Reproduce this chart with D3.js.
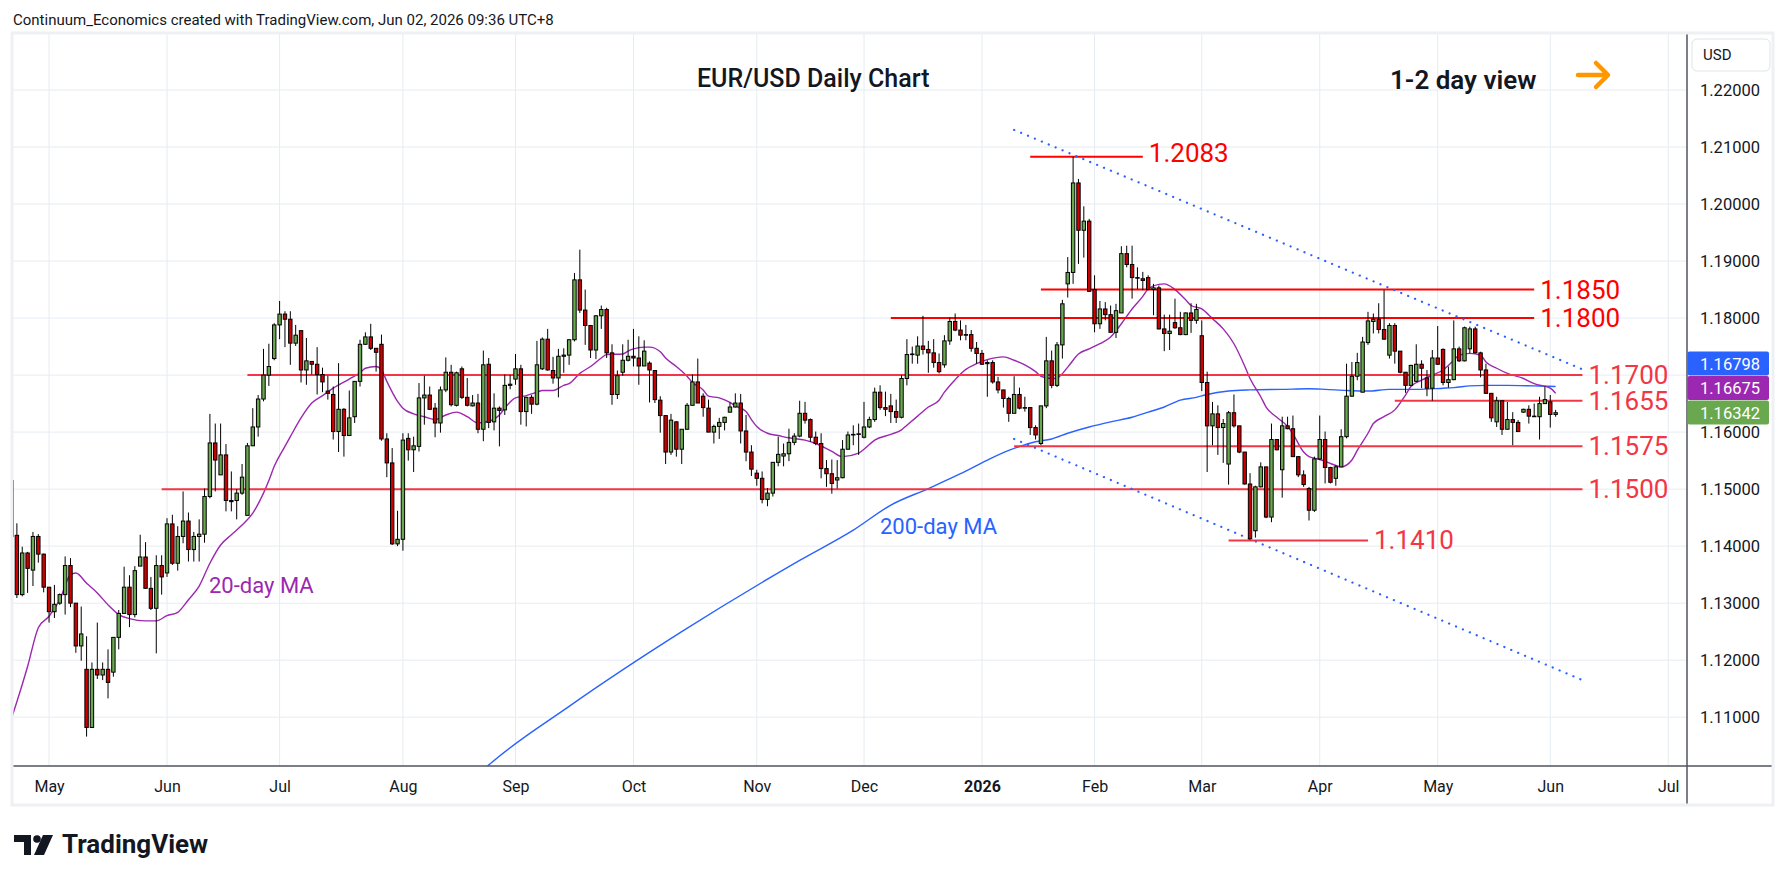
<!DOCTYPE html>
<html>
<head>
<meta charset="utf-8">
<script src="https://cdn.jsdelivr.net/npm/d3@7"></script>
<style>
  body { margin: 0; background: #fff; }
  text { font-family: Roboto, "Liberation Sans", sans-serif; }
</style>
</head>
<body>
<svg id="chart" width="1787" height="881"></svg>
<script>
// daily EUR/USD candles: date, open, high, low, close
const ohlc = [
["2025-04-22",1.1515,1.1550,1.1400,1.1417],
["2025-04-23",1.1419,1.1440,1.1309,1.1315],["2025-04-24",1.1315,1.1399,1.1312,1.1388],["2025-04-25",1.1388,1.1390,1.1318,1.1361],
["2025-04-28",1.1358,1.1425,1.1330,1.1417],["2025-04-29",1.1417,1.1421,1.1371,1.1386],["2025-04-30",1.1386,1.1387,1.1319,1.1328],
["2025-05-01",1.1328,1.1328,1.1266,1.1285],["2025-05-02",1.1285,1.1332,1.1274,1.1298],["2025-05-05",1.1300,1.1317,1.1297,1.1315],
["2025-05-06",1.1315,1.1382,1.1280,1.1366],["2025-05-07",1.1366,1.1379,1.1293,1.1300],["2025-05-08",1.1300,1.1300,1.1213,1.1225],
["2025-05-09",1.1225,1.1294,1.1199,1.1246],["2025-05-12",1.1184,1.1242,1.1066,1.1082],["2025-05-13",1.1082,1.1196,1.1082,1.1184],
["2025-05-14",1.1184,1.1266,1.1167,1.1174],["2025-05-15",1.1174,1.1196,1.1165,1.1184],["2025-05-16",1.1184,1.1219,1.1133,1.1161],
["2025-05-19",1.1179,1.1240,1.1171,1.1240],["2025-05-20",1.1240,1.1288,1.1219,1.1282],["2025-05-21",1.1282,1.1364,1.1282,1.1328],
["2025-05-22",1.1328,1.1349,1.1258,1.1280],["2025-05-23",1.1280,1.1365,1.1275,1.1357],["2025-05-26",1.1365,1.1420,1.1365,1.1381],
["2025-05-27",1.1381,1.1407,1.1325,1.1326],["2025-05-28",1.1326,1.1346,1.1288,1.1291],["2025-05-29",1.1291,1.1384,1.1212,1.1366],
["2025-05-30",1.1366,1.1384,1.1315,1.1346],["2025-06-02",1.1353,1.1449,1.1346,1.1439],["2025-06-03",1.1439,1.1455,1.1367,1.1370],
["2025-06-04",1.1370,1.1435,1.1357,1.1417],["2025-06-05",1.1417,1.1496,1.1405,1.1444],["2025-06-06",1.1444,1.1459,1.1373,1.1394],
["2025-06-09",1.1394,1.1425,1.1373,1.1417],["2025-06-10",1.1417,1.1447,1.1373,1.1421],["2025-06-11",1.1421,1.1501,1.1406,1.1487],
["2025-06-12",1.1487,1.1632,1.1484,1.1581],["2025-06-13",1.1581,1.1615,1.1496,1.1551],["2025-06-16",1.1525,1.1615,1.1525,1.1560],
["2025-06-17",1.1560,1.1579,1.1461,1.1480],["2025-06-18",1.1480,1.1531,1.1461,1.1478],["2025-06-19",1.1480,1.1500,1.1447,1.1493],
["2025-06-20",1.1493,1.1544,1.1490,1.1521],["2025-06-23",1.1454,1.1581,1.1454,1.1576],["2025-06-24",1.1576,1.1642,1.1576,1.1609],
["2025-06-25",1.1609,1.1665,1.1592,1.1658],["2025-06-26",1.1658,1.1746,1.1654,1.1700],["2025-06-27",1.1700,1.1755,1.1681,1.1715],
["2025-06-30",1.1729,1.1791,1.1726,1.1788],["2025-07-01",1.1788,1.1830,1.1763,1.1807],["2025-07-02",1.1807,1.1812,1.1749,1.1798],
["2025-07-03",1.1798,1.1812,1.1718,1.1756],["2025-07-04",1.1756,1.1788,1.1751,1.1770],["2025-07-07",1.1778,1.1778,1.1687,1.1709],
["2025-07-08",1.1709,1.1765,1.1683,1.1725],["2025-07-09",1.1724,1.1724,1.1701,1.1719],["2025-07-10",1.1719,1.1749,1.1666,1.1701],
["2025-07-11",1.1701,1.1713,1.1670,1.1688],["2025-07-14",1.1672,1.1699,1.1657,1.1668],["2025-07-15",1.1666,1.1680,1.1587,1.1601],
["2025-07-16",1.1601,1.1721,1.1565,1.1640],["2025-07-17",1.1640,1.1642,1.1557,1.1594],["2025-07-18",1.1594,1.1673,1.1594,1.1625],
["2025-07-21",1.1627,1.1689,1.1616,1.1689],["2025-07-22",1.1689,1.1762,1.1680,1.1754],["2025-07-23",1.1754,1.1775,1.1753,1.1767],
["2025-07-24",1.1767,1.1790,1.1744,1.1747],["2025-07-25",1.1747,1.1747,1.1706,1.1740],["2025-07-28",1.1754,1.1771,1.1585,1.1588],
["2025-07-29",1.1588,1.1598,1.1521,1.1546],["2025-07-30",1.1546,1.1572,1.1402,1.1404],["2025-07-31",1.1404,1.1462,1.1400,1.1412],
["2025-08-01",1.1412,1.1598,1.1392,1.1586],["2025-08-04",1.1589,1.1598,1.1550,1.1569],["2025-08-05",1.1569,1.1592,1.1530,1.1576],
["2025-08-06",1.1575,1.1686,1.1566,1.1660],["2025-08-07",1.1660,1.1699,1.1613,1.1665],["2025-08-08",1.1665,1.1680,1.1639,1.1640],
["2025-08-11",1.1642,1.1651,1.1591,1.1616],["2025-08-12",1.1616,1.1680,1.1599,1.1674],["2025-08-13",1.1674,1.1731,1.1670,1.1705],
["2025-08-14",1.1705,1.1718,1.1645,1.1648],["2025-08-15",1.1647,1.1706,1.1645,1.1704],["2025-08-18",1.1711,1.1715,1.1658,1.1661],
["2025-08-19",1.1661,1.1695,1.1645,1.1647],["2025-08-20",1.1646,1.1665,1.1645,1.1651],["2025-08-21",1.1651,1.1667,1.1598,1.1605],
["2025-08-22",1.1605,1.1743,1.1584,1.1718],["2025-08-25",1.1719,1.1730,1.1607,1.1617],["2025-08-26",1.1618,1.1668,1.1603,1.1642],
["2025-08-27",1.1642,1.1645,1.1575,1.1638],["2025-08-28",1.1639,1.1701,1.1630,1.1682],["2025-08-29",1.1682,1.1700,1.1675,1.1684],
["2025-09-01",1.1693,1.1737,1.1683,1.1711],["2025-09-02",1.1711,1.1718,1.1613,1.1636],["2025-09-03",1.1636,1.1662,1.1610,1.1661],
["2025-09-04",1.1661,1.1665,1.1632,1.1649],["2025-09-05",1.1649,1.1760,1.1647,1.1718],["2025-09-08",1.1711,1.1766,1.1709,1.1763],
["2025-09-09",1.1763,1.1781,1.1708,1.1709],["2025-09-10",1.1708,1.1732,1.1685,1.1695],["2025-09-11",1.1695,1.1746,1.1661,1.1733],
["2025-09-12",1.1733,1.1747,1.1704,1.1735],["2025-09-15",1.1735,1.1763,1.1718,1.1762],["2025-09-16",1.1762,1.1879,1.1759,1.1867],
["2025-09-17",1.1867,1.1920,1.1809,1.1814],["2025-09-18",1.1814,1.1850,1.1753,1.1787],["2025-09-19",1.1787,1.1787,1.1730,1.1744],
["2025-09-22",1.1744,1.1805,1.1728,1.1804],["2025-09-23",1.1804,1.1822,1.1781,1.1815],["2025-09-24",1.1815,1.1818,1.1730,1.1739],
["2025-09-25",1.1739,1.1754,1.1648,1.1666],["2025-09-26",1.1666,1.1708,1.1658,1.1699],["2025-09-29",1.1705,1.1754,1.1699,1.1726],
["2025-09-30",1.1726,1.1762,1.1724,1.1733],["2025-10-01",1.1733,1.1781,1.1715,1.1730],["2025-10-02",1.1730,1.1768,1.1683,1.1716],
["2025-10-03",1.1716,1.1761,1.1716,1.1742],["2025-10-06",1.1721,1.1724,1.1652,1.1709],["2025-10-07",1.1708,1.1708,1.1651,1.1657],
["2025-10-08",1.1656,1.1663,1.1599,1.1629],["2025-10-09",1.1629,1.1629,1.1544,1.1565],["2025-10-10",1.1565,1.1632,1.1560,1.1621],
["2025-10-13",1.1618,1.1619,1.1557,1.1570],["2025-10-14",1.1570,1.1605,1.1544,1.1605],["2025-10-15",1.1605,1.1651,1.1605,1.1647],
["2025-10-16",1.1647,1.1701,1.1647,1.1688],["2025-10-17",1.1688,1.1729,1.1651,1.1651],["2025-10-20",1.1663,1.1668,1.1627,1.1643],
["2025-10-21",1.1642,1.1657,1.1600,1.1600],["2025-10-22",1.1600,1.1613,1.1580,1.1610],["2025-10-23",1.1610,1.1625,1.1588,1.1617],
["2025-10-24",1.1617,1.1627,1.1603,1.1626],["2025-10-27",1.1635,1.1652,1.1634,1.1644],["2025-10-28",1.1644,1.1668,1.1643,1.1651],
["2025-10-29",1.1651,1.1667,1.1580,1.1602],["2025-10-30",1.1602,1.1630,1.1549,1.1565],["2025-10-31",1.1565,1.1577,1.1523,1.1535],
["2025-11-03",1.1528,1.1534,1.1506,1.1519],["2025-11-04",1.1519,1.1531,1.1475,1.1482],["2025-11-05",1.1482,1.1502,1.1470,1.1493],
["2025-11-06",1.1493,1.1547,1.1487,1.1547],["2025-11-07",1.1547,1.1592,1.1540,1.1561],["2025-11-10",1.1558,1.1580,1.1540,1.1562],
["2025-11-11",1.1562,1.1606,1.1549,1.1582],["2025-11-12",1.1582,1.1598,1.1577,1.1593],["2025-11-13",1.1593,1.1655,1.1591,1.1633],
["2025-11-14",1.1633,1.1653,1.1615,1.1621],["2025-11-17",1.1622,1.1624,1.1583,1.1591],["2025-11-18",1.1591,1.1601,1.1577,1.1580],
["2025-11-19",1.1580,1.1598,1.1519,1.1536],["2025-11-20",1.1536,1.1551,1.1504,1.1527],["2025-11-21",1.1527,1.1552,1.1492,1.1510],
["2025-11-24",1.1516,1.1551,1.1501,1.1520],["2025-11-25",1.1520,1.1586,1.1519,1.1570],["2025-11-26",1.1570,1.1601,1.1569,1.1595],
["2025-11-27",1.1595,1.1612,1.1577,1.1596],["2025-11-28",1.1596,1.1615,1.1560,1.1597],["2025-12-01",1.1591,1.1653,1.1589,1.1609],
["2025-12-02",1.1609,1.1627,1.1607,1.1622],["2025-12-03",1.1622,1.1678,1.1618,1.1670],["2025-12-04",1.1670,1.1682,1.1639,1.1643],
["2025-12-05",1.1643,1.1671,1.1628,1.1640],["2025-12-08",1.1646,1.1667,1.1616,1.1636],["2025-12-09",1.1636,1.1657,1.1616,1.1626],
["2025-12-10",1.1626,1.1700,1.1624,1.1694],["2025-12-11",1.1694,1.1763,1.1682,1.1736],["2025-12-12",1.1736,1.1750,1.1720,1.1737],
["2025-12-15",1.1735,1.1768,1.1720,1.1751],["2025-12-16",1.1751,1.1804,1.1736,1.1745],["2025-12-17",1.1745,1.1760,1.1704,1.1739],
["2025-12-18",1.1739,1.1763,1.1713,1.1722],["2025-12-19",1.1722,1.1738,1.1703,1.1706],["2025-12-22",1.1718,1.1770,1.1713,1.1760],
["2025-12-23",1.1760,1.1801,1.1753,1.1794],["2025-12-24",1.1794,1.1808,1.1777,1.1779],["2025-12-26",1.1779,1.1796,1.1761,1.1770],
["2025-12-29",1.1771,1.1788,1.1761,1.1770],["2025-12-30",1.1771,1.1779,1.1741,1.1747],["2025-12-31",1.1747,1.1758,1.1720,1.1738],
["2026-01-02",1.1738,1.1744,1.1718,1.1719],["2026-01-05",1.1722,1.1726,1.1662,1.1720],["2026-01-06",1.1722,1.1726,1.1685,1.1688],
["2026-01-07",1.1688,1.1697,1.1668,1.1674],["2026-01-08",1.1674,1.1674,1.1643,1.1659],["2026-01-09",1.1659,1.1662,1.1618,1.1633],
["2026-01-12",1.1633,1.1698,1.1633,1.1666],["2026-01-13",1.1666,1.1678,1.1640,1.1642],["2026-01-14",1.1642,1.1662,1.1636,1.1643],
["2026-01-15",1.1643,1.1644,1.1595,1.1608],["2026-01-16",1.1608,1.1612,1.1587,1.1595],["2026-01-19",1.1580,1.1646,1.1577,1.1646],
["2026-01-20",1.1646,1.1767,1.1642,1.1725],["2026-01-21",1.1725,1.1743,1.1677,1.1682],["2026-01-22",1.1682,1.1758,1.1679,1.1753],
["2026-01-23",1.1753,1.1832,1.1729,1.1825],["2026-01-26",1.1860,1.1907,1.1836,1.1880],["2026-01-27",1.1880,1.2083,1.1860,1.2037],
["2026-01-28",1.2037,1.2044,1.1895,1.1954],["2026-01-29",1.1954,1.1996,1.1906,1.1970],["2026-01-30",1.1970,1.1974,1.1846,1.1847],
["2026-02-02",1.1850,1.1875,1.1775,1.1790],["2026-02-03",1.1790,1.1830,1.1781,1.1816],["2026-02-04",1.1816,1.1828,1.1796,1.1806],
["2026-02-05",1.1806,1.1822,1.1774,1.1775],["2026-02-06",1.1775,1.1825,1.1765,1.1813],["2026-02-09",1.1809,1.1926,1.1809,1.1913],
["2026-02-10",1.1913,1.1927,1.1889,1.1894],["2026-02-11",1.1894,1.1927,1.1834,1.1871],["2026-02-12",1.1871,1.1889,1.1851,1.1870],
["2026-02-13",1.1869,1.1881,1.1849,1.1866],["2026-02-16",1.1871,1.1875,1.1849,1.1850],["2026-02-17",1.1850,1.1860,1.1805,1.1853],
["2026-02-18",1.1853,1.1857,1.1780,1.1781],["2026-02-19",1.1781,1.1806,1.1742,1.1773],["2026-02-20",1.1773,1.1806,1.1744,1.1777],
["2026-02-23",1.1792,1.1834,1.1781,1.1783],["2026-02-24",1.1783,1.1811,1.1770,1.1771],["2026-02-25",1.1771,1.1810,1.1770,1.1809],
["2026-02-26",1.1809,1.1826,1.1774,1.1796],["2026-02-27",1.1796,1.1825,1.1790,1.1815],["2026-03-02",1.1769,1.1796,1.1672,1.1687],
["2026-03-03",1.1687,1.1706,1.1530,1.1611],["2026-03-04",1.1611,1.1653,1.1577,1.1632],["2026-03-05",1.1632,1.1647,1.1560,1.1608],
["2026-03-06",1.1608,1.1623,1.1546,1.1615],["2026-03-09",1.1544,1.1637,1.1508,1.1634],["2026-03-10",1.1634,1.1666,1.1608,1.1611],
["2026-03-11",1.1611,1.1611,1.1563,1.1565],["2026-03-12",1.1565,1.1565,1.1508,1.1509],["2026-03-13",1.1509,1.1528,1.1411,1.1413],
["2026-03-16",1.1427,1.1506,1.1415,1.1504],["2026-03-17",1.1504,1.1547,1.1503,1.1539],["2026-03-18",1.1539,1.1539,1.1449,1.1451],
["2026-03-19",1.1451,1.1615,1.1442,1.1587],["2026-03-20",1.1587,1.1587,1.1568,1.1569],["2026-03-23",1.1534,1.1627,1.1485,1.1611],
["2026-03-24",1.1611,1.1627,1.1605,1.1606],["2026-03-25",1.1606,1.1629,1.1557,1.1557],["2026-03-26",1.1557,1.1557,1.1521,1.1525],
["2026-03-27",1.1525,1.1533,1.1504,1.1508],["2026-03-30",1.1501,1.1504,1.1445,1.1463],["2026-03-31",1.1463,1.1557,1.1460,1.1553],
["2026-04-01",1.1553,1.1629,1.1551,1.1587],["2026-04-02",1.1587,1.1601,1.1510,1.1538],["2026-04-03",1.1538,1.1539,1.1510,1.1512],
["2026-04-06",1.1519,1.1542,1.1506,1.1539],["2026-04-07",1.1539,1.1605,1.1539,1.1592],["2026-04-08",1.1592,1.1720,1.1589,1.1663],
["2026-04-09",1.1663,1.1723,1.1662,1.1698],["2026-04-10",1.1698,1.1739,1.1691,1.1722],["2026-04-13",1.1670,1.1767,1.1670,1.1758],
["2026-04-14",1.1757,1.1811,1.1753,1.1795],["2026-04-15",1.1794,1.1808,1.1773,1.1798],["2026-04-16",1.1798,1.1826,1.1773,1.1780],
["2026-04-17",1.1780,1.1849,1.1762,1.1763],["2026-04-20",1.1735,1.1791,1.1729,1.1787],["2026-04-21",1.1787,1.1791,1.1720,1.1742],
["2026-04-22",1.1742,1.1742,1.1703,1.1705],["2026-04-23",1.1705,1.1705,1.1669,1.1682],["2026-04-24",1.1682,1.1718,1.1681,1.1717],
["2026-04-27",1.1689,1.1754,1.1688,1.1719],["2026-04-28",1.1719,1.1726,1.1677,1.1712],["2026-04-29",1.1695,1.1709,1.1663,1.1677],
["2026-04-30",1.1677,1.1744,1.1655,1.1730],["2026-05-01",1.1730,1.1786,1.1718,1.1719],["2026-05-04",1.1745,1.1747,1.1682,1.1687],
["2026-05-05",1.1687,1.1715,1.1678,1.1692],["2026-05-06",1.1692,1.1796,1.1691,1.1746],["2026-05-07",1.1746,1.1750,1.1723,1.1725],
["2026-05-08",1.1725,1.1785,1.1724,1.1783],["2026-05-11",1.1746,1.1785,1.1738,1.1781],["2026-05-12",1.1781,1.1785,1.1738,1.1739],
["2026-05-13",1.1739,1.1741,1.1696,1.1709],["2026-05-14",1.1709,1.1720,1.1667,1.1668],["2026-05-15",1.1668,1.1668,1.1618,1.1625],
["2026-05-18",1.1618,1.1662,1.1609,1.1655],["2026-05-19",1.1655,1.1655,1.1595,1.1605],["2026-05-20",1.1605,1.1653,1.1605,1.1622],
["2026-05-21",1.1622,1.1635,1.1577,1.1617],["2026-05-22",1.1617,1.1621,1.1600,1.1601],["2026-05-25",1.1635,1.1641,1.1634,1.1640],
["2026-05-26",1.1640,1.1647,1.1615,1.1628],["2026-05-27",1.1627,1.1650,1.1627,1.1628],["2026-05-28",1.1627,1.1662,1.1587,1.1650],
["2026-05-29",1.1650,1.1680,1.1650,1.1657],["2026-06-01",1.1653,1.1665,1.1608,1.1631],["2026-06-02",1.1631,1.1639,1.1627,1.1634]
];

// 20-day moving average
const ma20 = [
["2025-04-22",1.1098],
["2025-04-23",1.1127],["2025-04-25",1.1189],["2025-04-29",1.1257],["2025-05-01",1.1277],["2025-05-05",1.1306],
["2025-05-07",1.1350],["2025-05-08",1.1353],["2025-05-12",1.1335],["2025-05-14",1.1318],["2025-05-16",1.1297],
["2025-05-20",1.1280],["2025-05-22",1.1273],["2025-05-27",1.1269],["2025-05-29",1.1269],["2025-06-02",1.1278],
["2025-06-04",1.1284],["2025-06-06",1.1306],["2025-06-10",1.1330],["2025-06-12",1.1370],["2025-06-16",1.1402],
["2025-06-18",1.1420],["2025-06-20",1.1437],["2025-06-24",1.1458],["2025-06-26",1.1493],["2025-06-27",1.1515],
["2025-06-30",1.1540],["2025-07-02",1.1575],["2025-07-03",1.1592],["2025-07-07",1.1625],["2025-07-09",1.1651],
["2025-07-11",1.1664],["2025-07-15",1.1677],["2025-07-18",1.1693],["2025-07-22",1.1704],["2025-07-23",1.1712],
["2025-07-25",1.1715],["2025-07-28",1.1709],["2025-07-29",1.1689],["2025-07-31",1.1654],["2025-08-01",1.1642],
["2025-08-05",1.1632],["2025-08-07",1.1627],["2025-08-11",1.1622],["2025-08-13",1.1630],["2025-08-15",1.1635],
["2025-08-19",1.1627],["2025-08-21",1.1616],["2025-08-25",1.1619],["2025-08-27",1.1630],["2025-08-28",1.1642],
["2025-09-01",1.1660],["2025-09-03",1.1664],["2025-09-05",1.1670],["2025-09-08",1.1673],["2025-09-10",1.1673],
["2025-09-12",1.1682],["2025-09-15",1.1685],["2025-09-17",1.1703],["2025-09-19",1.1715],["2025-09-23",1.1730],
["2025-09-24",1.1736],["2025-09-29",1.1737],["2025-09-30",1.1742],["2025-10-01",1.1746],["2025-10-03",1.1749],
["2025-10-06",1.1749],["2025-10-08",1.1741],["2025-10-09",1.1730],["2025-10-13",1.1715],["2025-10-15",1.1698],
["2025-10-16",1.1687],["2025-10-20",1.1674],["2025-10-21",1.1663],["2025-10-23",1.1660],["2025-10-27",1.1652],
["2025-10-28",1.1646],["2025-10-30",1.1636],["2025-10-31",1.1622],["2025-11-03",1.1610],["2025-11-05",1.1598],
["2025-11-07",1.1594],["2025-11-11",1.1590],["2025-11-14",1.1586],["2025-11-18",1.1580],["2025-11-21",1.1566],
["2025-11-25",1.1557],["2025-11-28",1.1563],["2025-12-01",1.1570],["2025-12-03",1.1586],["2025-12-08",1.1596],
["2025-12-10",1.1604],["2025-12-11",1.1612],["2025-12-15",1.1628],["2025-12-17",1.1644],["2025-12-19",1.1656],
["2025-12-22",1.1670],["2025-12-24",1.1692],["2025-12-29",1.1710],["2025-12-31",1.1720],["2026-01-05",1.1727],
["2026-01-08",1.1732],["2026-01-12",1.1726],["2026-01-14",1.1718],["2026-01-16",1.1706],["2026-01-19",1.1698],
["2026-01-21",1.1694],["2026-01-22",1.1695],["2026-01-26",1.1714],["2026-01-28",1.1737],["2026-01-30",1.1746],
["2026-02-03",1.1755],["2026-02-05",1.1767],["2026-02-09",1.1790],["2026-02-11",1.1816],["2026-02-13",1.1838],
["2026-02-16",1.1851],["2026-02-18",1.1859],["2026-02-19",1.1860],["2026-02-23",1.1850],["2026-02-25",1.1832],
["2026-02-26",1.1822],["2026-03-02",1.1816],["2026-03-04",1.1799],["2026-03-06",1.1781],["2026-03-10",1.1755],
["2026-03-12",1.1716],["2026-03-13",1.1694],["2026-03-17",1.1662],["2026-03-18",1.1644],["2026-03-20",1.1626],
["2026-03-24",1.1610],["2026-03-25",1.1597],["2026-03-27",1.1565],["2026-03-30",1.1557],["2026-04-01",1.1552],
["2026-04-03",1.1545],["2026-04-07",1.1539],["2026-04-09",1.1551],["2026-04-10",1.1568],["2026-04-14",1.1598],
["2026-04-15",1.1615],["2026-04-17",1.1627],["2026-04-21",1.1639],["2026-04-23",1.1665],["2026-04-24",1.1680],
["2026-04-28",1.1691],["2026-04-30",1.1700],["2026-05-04",1.1709],["2026-05-06",1.1726],["2026-05-07",1.1735],
["2026-05-11",1.1738],["2026-05-13",1.1735],["2026-05-14",1.1723],["2026-05-18",1.1712],["2026-05-20",1.1703],
["2026-05-25",1.1694],["2026-05-27",1.1685],["2026-06-01",1.1677],["2026-06-02",1.1668]
];

// 200-day moving average
const ma200 = [
["2025-08-20",1.0990],["2025-08-25",1.1016],["2025-09-15",1.1119],["2025-10-14",1.1250],["2025-11-13",1.1375],
["2025-11-27",1.1428],["2025-12-08",1.1472],["2025-12-17",1.1501],["2025-12-26",1.1527],["2026-01-05",1.1551],
["2026-01-09",1.1568],["2026-01-16",1.1583],["2026-01-21",1.1588],["2026-01-26",1.1598],["2026-01-30",1.1609],
["2026-02-05",1.1618],["2026-02-11",1.1626],["2026-02-16",1.1635],["2026-02-19",1.1644],["2026-02-24",1.1656],
["2026-02-27",1.1661],["2026-03-03",1.1666],["2026-03-09",1.1672],["2026-03-13",1.1674],["2026-03-23",1.1675],
["2026-03-30",1.1676],["2026-04-02",1.1675],["2026-04-08",1.1673],["2026-04-14",1.1672],["2026-04-20",1.1675],
["2026-04-27",1.1675],["2026-05-04",1.1677],["2026-05-06",1.1678],["2026-05-11",1.1681],["2026-05-14",1.1682],
["2026-05-20",1.1682],["2026-05-27",1.1681],["2026-06-02",1.1680]
];

// horizontal support / resistance levels: price, from, to
const levels = [
[1.2083,"2026-01-15","2026-02-13"],
[1.1850,"2026-01-19","2026-05-27"],
[1.1800,"2025-12-08","2026-05-27"],
[1.1700,"2025-06-23","2026-06-09"],
[1.1655,"2026-04-21","2026-06-09"],
[1.1575,"2026-01-12","2026-06-09"],
[1.1500,"2025-05-30","2026-06-09"],
[1.1410,"2026-03-09","2026-04-14"]
];
const levelLabels = ["1.2083","1.1850","1.1800","1.1700","1.1655","1.1575","1.1500","1.1410"];

// dotted channel lines
const channel = [
[["2026-01-12",1.2130],["2026-06-09",1.1710]],
[["2026-01-12",1.1588],["2026-06-09",1.1165]]
];

const priceTicks = [1.11,1.12,1.13,1.14,1.15,1.16,1.17,1.18,1.19,1.20,1.21,1.22];
const monthTicks = [
["May","2025-05-01"],["Jun","2025-06-02"],["Jul","2025-07-01"],["Aug","2025-08-01"],["Sep","2025-09-01"],
["Oct","2025-10-01"],["Nov","2025-11-03"],["Dec","2025-12-01"],["2026","2026-01-02"],["Feb","2026-02-02"],
["Mar","2026-03-02"],["Apr","2026-04-01"],["May","2026-05-01"],["Jun","2026-06-01"],["Jul","2026-07-01"]
];

// last values shown on the price scale
const tags = [
{value: 1.16798, color: "#2962ff"},
{value: 1.16675, color: "#9c27b0"},
{value: 1.16342, color: "#6aa84f"}
];

const plot = {left: 12, right: 1687, top: 33, bottom: 766};
const panel = {left: 12, right: 1773, top: 33, bottom: 805};

const svg = d3.select("#chart");

// trading-day index, extended with future weekdays for the empty right margin
const parse = d3.utcParse("%Y-%m-%d"), fmt = d3.utcFormat("%Y-%m-%d");
const dates = ohlc.map(d => d[0]);
d3.utcDay.range(d3.utcDay.offset(parse(dates[dates.length - 1]), 1), parse("2026-07-20"))
  .filter(d => d.getUTCDay() % 6 !== 0)
  .forEach(d => dates.push(fmt(d)));
const idx = new Map(dates.map((d, i) => [d, i]));

const x = d3.scaleLinear().domain([0.09, 312.5]).range([plot.left, plot.right]);
const xd = d => x(idx.get(d));
const y = d3.scaleLinear().domain([1.11, 1.22]).range([717.2, 90]);

svg.append("defs").append("clipPath").attr("id", "clip")
  .append("rect")
  .attr("x", plot.left).attr("y", plot.top)
  .attr("width", plot.right - plot.left).attr("height", plot.bottom - plot.top);

// header
svg.append("text")
  .attr("x", 13).attr("y", 25)
  .attr("font-size", 15).attr("fill", "#131722")
  .text("Continuum_Economics created with TradingView.com, Jun 02, 2026 09:36 UTC+8");

// grid
const grid = svg.append("g");
grid.selectAll("line.h").data(priceTicks).enter().append("line")
  .attr("x1", plot.left).attr("x2", plot.right)
  .attr("y1", d => y(d)).attr("y2", d => y(d))
  .attr("stroke", "#e6ecf2").attr("stroke-width", 1);
grid.selectAll("line.v").data(monthTicks).enter().append("line")
  .attr("x1", d => xd(d[1])).attr("x2", d => xd(d[1]))
  .attr("y1", plot.top).attr("y2", plot.bottom)
  .attr("stroke", "#e6ecf2").attr("stroke-width", 1);

const chart = svg.append("g").attr("clip-path", "url(#clip)");

// moving averages
const line = d3.line().x(d => xd(d[0])).y(d => y(d[1])).curve(d3.curveMonotoneX);
chart.append("path").datum(ma200).attr("d", line)
  .attr("fill", "none").attr("stroke", "#2962ff").attr("stroke-width", 1.4);
chart.append("path").datum(ma20).attr("d", line)
  .attr("fill", "none").attr("stroke", "#9c27b0").attr("stroke-width", 1.4);

// levels
levels.forEach((lv, i) => {
  const col = i < 3 ? "#ff0000" : "#f23645";
  chart.append("line")
    .attr("x1", xd(lv[1])).attr("x2", xd(lv[2]))
    .attr("y1", y(lv[0])).attr("y2", y(lv[0]))
    .attr("stroke", col).attr("stroke-width", 2);
});

// channel
chart.selectAll("line.ch").data(channel).enter().append("line")
  .attr("x1", d => xd(d[0][0])).attr("y1", d => y(d[0][1]))
  .attr("x2", d => xd(d[1][0])).attr("y2", d => y(d[1][1]))
  .attr("stroke", "#2962ff").attr("stroke-width", 2.2)
  .attr("stroke-dasharray", "0.1 7.4").attr("stroke-linecap", "round");

// candles
const bw = 3.4;
const candle = chart.selectAll("g.c").data(ohlc).enter().append("g");
candle.append("line")
  .attr("x1", d => xd(d[0])).attr("x2", d => xd(d[0]))
  .attr("y1", d => y(d[2])).attr("y2", d => y(d[3]))
  .attr("stroke", "#000").attr("stroke-width", 1);
candle.append("rect")
  .attr("x", d => xd(d[0]) - bw / 2)
  .attr("y", d => y(Math.max(d[1], d[4])))
  .attr("width", bw)
  .attr("height", d => Math.max(0.6, Math.abs(y(d[1]) - y(d[4]))))
  .attr("fill", d => d[4] >= d[1] ? "#6aa84f" : "#cc0000")
  .attr("stroke", "#000").attr("stroke-width", 1);

// level labels
levels.forEach((lv, i) => {
  const col = i < 3 ? "#ff0000" : "#f23645";
  svg.append("text")
    .attr("x", xd(lv[2]) + 6).attr("y", y(lv[0]) + 9 - (i === 0 ? 4 : 0))
    .attr("font-size", 26).attr("fill", col)
    .text(levelLabels[i]);
});

// MA labels
svg.append("text").attr("x", 880).attr("y", 534)
  .attr("font-size", 22).attr("fill", "#2962ff").text("200-day MA");
svg.append("text").attr("x", 209).attr("y", 593)
  .attr("font-size", 22).attr("fill", "#9c27b0").text("20-day MA");

// titles
svg.append("text").attr("x", 697).attr("y", 87)
  .attr("font-size", 25).attr("font-weight", 500).attr("fill", "#131722")
  .text("EUR/USD Daily Chart");
svg.append("text").attr("x", 1390).attr("y", 89)
  .attr("font-size", 26).attr("font-weight", 600).attr("fill", "#131722")
  .text("1-2 day view");
svg.append("path")
  .attr("d", "M1578,75H1607M1596,63L1608,75L1596,87")
  .attr("fill", "none").attr("stroke", "#ff9800").attr("stroke-width", 4.5)
  .attr("stroke-linecap", "round").attr("stroke-linejoin", "round");

// price tags, pushed up where they would overlap
let prev = Infinity;
const tagPos = tags.slice().sort((a, b) => a.value - b.value).map(t => {
  const cy = Math.min(y(t.value), prev - 24.5);
  prev = cy;
  return {...t, cy};
});

// axes (price labels hidden where a tag covers them)
const yAxis = svg.append("g")
  .attr("transform", `translate(${plot.right},0)`)
  .call(d3.axisRight(y)
    .tickValues(priceTicks.filter(v => tagPos.every(t => Math.abs(y(v) - t.cy) > 13)))
    .tickSize(0).tickPadding(13).tickFormat(d3.format(".5f")));
yAxis.select(".domain").remove();
yAxis.selectAll("text").attr("font-size", 16.5).attr("fill", "#131722").attr("font-family", null);

const xAxis = svg.append("g")
  .attr("transform", `translate(0,${plot.bottom})`)
  .call(d3.axisBottom(x).tickValues(monthTicks.map(m => idx.get(m[1])))
    .tickFormat((d, i) => monthTicks[i][0]).tickSize(0).tickPadding(15));
xAxis.select(".domain").remove();
xAxis.selectAll("text").attr("font-size", 16).attr("fill", "#131722").attr("font-family", null)
  .attr("font-weight", (d, i) => monthTicks[i][0] === "2026" ? 700 : 400);

svg.append("line").attr("x1", plot.left).attr("x2", panel.right)
  .attr("y1", plot.bottom).attr("y2", plot.bottom)
  .attr("stroke", "#50535e").attr("stroke-width", 1.5);
svg.append("line").attr("x1", plot.right).attr("x2", plot.right)
  .attr("y1", panel.top).attr("y2", panel.bottom)
  .attr("stroke", "#50535e").attr("stroke-width", 1.5);

// currency box
svg.append("rect").attr("x", 1692).attr("y", 39).attr("width", 78).attr("height", 32)
  .attr("rx", 5).attr("fill", "#fff").attr("stroke", "#e0e3eb");
svg.append("text").attr("x", 1703).attr("y", 60).attr("font-size", 15).attr("fill", "#131722").text("USD");

tagPos.forEach(t => {
  svg.append("rect").attr("x", plot.right + 0.5).attr("y", t.cy - 12).attr("width", 81.5).attr("height", 24)
    .attr("rx", 2).attr("fill", t.color);
  svg.append("text").attr("x", 1700).attr("y", t.cy + 6).attr("font-size", 16.5).attr("fill", "#fff")
    .text(t.value.toFixed(5));
});

// panel frame
svg.append("rect").attr("x", panel.left).attr("y", panel.top)
  .attr("width", panel.right - panel.left).attr("height", panel.bottom - panel.top)
  .attr("fill", "none").attr("stroke", "#eef0f4").attr("stroke-width", 3);

// TradingView logo
const logo = svg.append("g").attr("fill", "#131722");
logo.append("path").attr("d", "M14,835H31V855H24V842H14Z");
logo.append("circle").attr("cx", 37).attr("cy", 839).attr("r", 3.8);
logo.append("path").attr("d", "M43,835H53L44,855H34Z");
svg.append("text").attr("x", 62).attr("y", 853).attr("font-size", 26).attr("font-weight", 700)
  .attr("fill", "#131722").text("TradingView");
</script>
</body>
</html>
